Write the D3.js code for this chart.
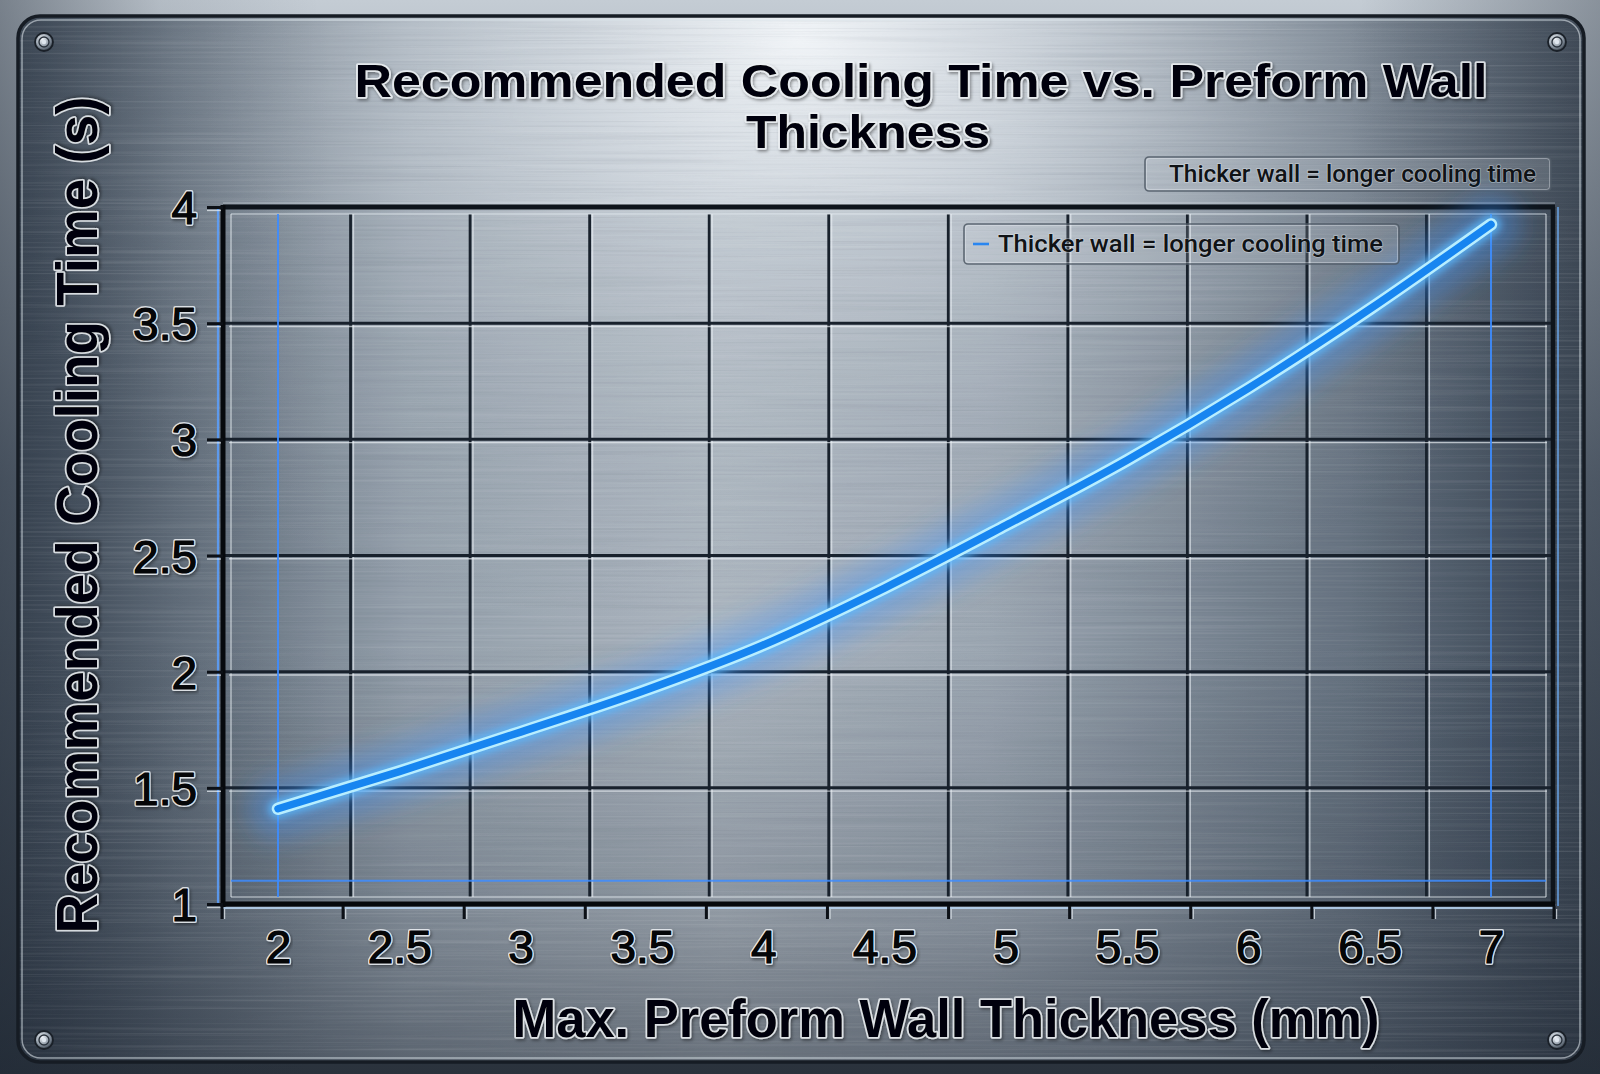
<!DOCTYPE html>
<html><head><meta charset="utf-8">
<script src="https://cdn.jsdelivr.net/npm/d3@7"></script>
<style>html,body{margin:0;padding:0;background:#3a434e;} svg{display:block}</style>
</head><body>
<svg id="chart" width="1600" height="1074"></svg>
<script>
// ---------------- data ----------------
const thickness   = [2, 2.5, 3, 3.5, 4, 4.5, 5, 5.5, 6, 6.5, 7];
const coolingTime = [1.41, 1.57, 1.74, 1.915, 2.115, 2.36, 2.63, 2.91, 3.22, 3.56, 3.925];
const xTickValues = [2, 2.5, 3, 3.5, 4, 4.5, 5, 5.5, 6, 6.5, 7];
const yTickValues = [1, 1.5, 2, 2.5, 3, 3.5, 4];
const titleLines  = ["Recommended Cooling Time vs. Preform Wall", "Thickness"];
const xAxisTitle  = "Max. Preform Wall Thickness (mm)";
const yAxisTitle  = "Recommended Cooling Time (s)";
const seriesName  = "Thicker wall = longer cooling time";
const noteText    = "Thicker wall = longer cooling time";
const gridIndex   = d3.range(12);        // decorative tile grid columns
const glowRows    = [1.1];               // blue guide line value

// ---------------- layout ----------------
const W = 1600, H = 1074;
const plot = {left: 223, right: 1553, top: 207, bottom: 904};
const svg = d3.select("#chart");
const defs = svg.append("defs");

const x = d3.scaleLinear().domain([2, 7]).range([278, 1491]);
const y = d3.scaleLinear().domain([1, 4]).range([904, 207]);
const gx = d3.scaleLinear().domain([0, 11]).range([231, 1546]);     // grid tiles
const tx = d3.scaleLinear().domain([0, 11]).range([222, 1554]);     // axis tick marks

// ---------------- defs ----------------
function lin(id, horiz, stops){
  const g = defs.append("linearGradient").attr("id",id).attr("x1",0).attr("y1",0)
    .attr("x2",horiz?1:0).attr("y2",horiz?0:1);
  stops.forEach(s => g.append("stop").attr("offset",s[0]).attr("stop-color",s[1]).attr("stop-opacity",s[2]===undefined?1:s[2]));
}
lin("pageG", false, [[0,"#c4ccd4"],[0.45,"#66717e"],[1,"#2a323c"]]);
lin("baseG", true, [[0,"#4d5967"],[0.1,"#66727f"],[0.25,"#9ba6b1"],[0.45,"#b4bdc6"],[0.62,"#a3adb8"],[0.8,"#75818e"],[0.93,"#5a6674"],[1,"#4a5562"]]);
lin("shadeG", false, [[0,"#1c2430",0],[0.6,"#1c2430",0],[0.85,"#1c2430",0.22],[1,"#1c2430",0.5]]);
lin("edgeG", true, [[0,"#1c2633",0.45],[0.1,"#1c2633",0.1],[0.2,"#1c2633",0],[0.85,"#1c2633",0],[1,"#1c2633",0.35]]);

const lightG = defs.append("radialGradient").attr("id","lightG")
  .attr("cx",0.5).attr("cy",0.06).attr("r",0.55).attr("fx",0.5).attr("fy",0.02);
lightG.append("stop").attr("offset",0).attr("stop-color","#f4f7fa").attr("stop-opacity",0.95);
lightG.append("stop").attr("offset",0.3).attr("stop-color","#dde3e9").attr("stop-opacity",0.65);
lightG.append("stop").attr("offset",0.7).attr("stop-color","#c0c8d0").attr("stop-opacity",0.2);
lightG.append("stop").attr("offset",1).attr("stop-color","#b0b9c2").attr("stop-opacity",0);

// brushed metal texture
const brush = defs.append("filter").attr("id","brush").attr("x",0).attr("y",0).attr("width",1).attr("height",1);
brush.append("feTurbulence").attr("type","fractalNoise").attr("baseFrequency","0.003 0.45").attr("numOctaves",2).attr("seed",7).attr("result","n");
brush.append("feColorMatrix").attr("type","matrix")
  .attr("values","0 0 0 0 1  0 0 0 0 1  0 0 0 0 1  1.6 0 0 0 -0.75").attr("result","w");
brush.append("feComposite").attr("in","w").attr("in2","SourceGraphic").attr("operator","in");

const brushDark = defs.append("filter").attr("id","brushDark").attr("x",0).attr("y",0).attr("width",1).attr("height",1);
brushDark.append("feTurbulence").attr("type","fractalNoise").attr("baseFrequency","0.004 0.5").attr("numOctaves",2).attr("seed",3).attr("result","n");
brushDark.append("feColorMatrix").attr("type","matrix")
  .attr("values","0 0 0 0 0.1  0 0 0 0 0.12  0 0 0 0 0.16  -1.6 0 0 0 0.85").attr("result","d");
brushDark.append("feComposite").attr("in","d").attr("in2","SourceGraphic").attr("operator","in");

const glow = defs.append("filter").attr("id","glow").attr("x","-20%").attr("y","-20%").attr("width","140%").attr("height","140%");
glow.append("feGaussianBlur").attr("stdDeviation",12);
const glowS = defs.append("filter").attr("id","glowS").attr("x","-20%").attr("y","-20%").attr("width","140%").attr("height","140%");
glowS.append("feGaussianBlur").attr("stdDeviation",3.5);

const tsh = defs.append("filter").attr("id","tsh").attr("x","-5%").attr("y","-20%").attr("width","110%").attr("height","140%");
tsh.append("feDropShadow").attr("dx",1.5).attr("dy",2).attr("stdDeviation",1.5).attr("flood-color","#000").attr("flood-opacity",0.4);

const screwG = defs.append("radialGradient").attr("id","screwG").attr("cx",0.4).attr("cy",0.35).attr("r",0.7);
screwG.append("stop").attr("offset",0).attr("stop-color","#f0f4f8");
screwG.append("stop").attr("offset",0.6).attr("stop-color","#8e99a5");
screwG.append("stop").attr("offset",1).attr("stop-color","#2c3540");

// ---------------- background ----------------
svg.append("rect").attr("width",W).attr("height",H).attr("fill","url(#pageG)");
svg.append("rect").attr("width",W).attr("height",H).attr("fill","url(#edgeG)");

const plate = {x: 18, y: 16, w: 1566, h: 1046, r: 22};
const plateG = svg.append("g");
function plateRect(fill){
  return plateG.append("rect").attr("x",plate.x).attr("y",plate.y).attr("width",plate.w).attr("height",plate.h)
    .attr("rx",plate.r).attr("fill",fill);
}
plateRect("url(#baseG)");
plateRect("url(#lightG)");
plateRect("url(#edgeG)");
plateRect("url(#shadeG)");
plateRect("#fff").attr("filter","url(#brush)").attr("opacity",0.16);
plateRect("#000").attr("filter","url(#brushDark)").attr("opacity",0.16);
plateRect("none").attr("stroke","#161c24").attr("stroke-width",3.5);
plateG.append("rect").attr("x",plate.x+4).attr("y",plate.y+4).attr("width",plate.w-8).attr("height",plate.h-8)
  .attr("rx",plate.r-3).attr("fill","none").attr("stroke","#e6ecf2").attr("stroke-opacity",0.55).attr("stroke-width",1.5);

// screws
const screws = [[44,42],[1557,42],[44,1040],[1557,1040]];
const sg = svg.append("g").selectAll("g").data(screws).join("g").attr("transform",d=>`translate(${d[0]},${d[1]})`);
sg.append("circle").attr("r",9).attr("fill","url(#screwG)").attr("stroke","#1a2028").attr("stroke-width",1.8);
sg.append("circle").attr("r",5).attr("fill","none").attr("stroke","#2a323c").attr("stroke-width",1.4);
sg.append("circle").attr("r",2.2).attr("fill","#dfe6ee");

// ---------------- plot area ----------------
const pg = svg.append("g");
pg.append("rect").attr("x",plot.left).attr("y",plot.top).attr("width",plot.right-plot.left).attr("height",plot.bottom-plot.top)
  .attr("fill","#1c2836").attr("opacity",0.05);

const innerTop = plot.top + 7, innerBottom = plot.bottom - 7;
const hGrid = yTickValues.filter(v => v > 1 && v < 4);

pg.selectAll(".vgd").data(gridIndex.slice(1, 11)).join("line")
  .attr("x1",d=>gx(d)).attr("x2",d=>gx(d)).attr("y1",innerTop).attr("y2",innerBottom)
  .attr("stroke","#18212c").attr("stroke-width",2.8);
pg.selectAll(".vgl").data(gridIndex.slice(1, 11)).join("line")
  .attr("x1",d=>gx(d)+2.9).attr("x2",d=>gx(d)+2.9).attr("y1",innerTop).attr("y2",innerBottom)
  .attr("stroke","#eef3f8").attr("stroke-opacity",0.6).attr("stroke-width",1.4);
pg.selectAll(".vgl0").data([0,11]).join("line")
  .attr("x1",d=>gx(d)).attr("x2",d=>gx(d)).attr("y1",innerTop).attr("y2",innerBottom)
  .attr("stroke","#e8eef4").attr("stroke-opacity",0.6).attr("stroke-width",1.5);

pg.selectAll(".hgd").data(hGrid).join("line")
  .attr("x1",plot.left).attr("x2",plot.right).attr("y1",d=>y(d)).attr("y2",d=>y(d))
  .attr("stroke","#18212c").attr("stroke-width",3);
pg.selectAll(".hgl").data(hGrid).join("line")
  .attr("x1",plot.left+6).attr("x2",plot.right-6).attr("y1",d=>y(d)+3.3).attr("y2",d=>y(d)+3.3)
  .attr("stroke","#eef3f8").attr("stroke-opacity",0.65).attr("stroke-width",1.4);
pg.append("line").attr("x1",gx(0)).attr("x2",gx(11)).attr("y1",innerTop).attr("y2",innerTop)
  .attr("stroke","#e8eef4").attr("stroke-opacity",0.55).attr("stroke-width",1.5);
pg.append("line").attr("x1",gx(0)).attr("x2",gx(11)).attr("y1",innerBottom).attr("y2",innerBottom)
  .attr("stroke","#e8eef4").attr("stroke-opacity",0.55).attr("stroke-width",1.5);

// blue guide lines
const blueGuides = pg.append("g");
blueGuides.selectAll(".bv").data([xTickValues[0], xTickValues[xTickValues.length-1]]).join("line")
  .attr("x1",d=>x(d)).attr("x2",d=>x(d)).attr("y1",innerTop).attr("y2",innerBottom)
  .attr("stroke","#3d8cff").attr("stroke-width",2).attr("stroke-opacity",0.9);
blueGuides.selectAll(".bh").data(glowRows).join("line")
  .attr("x1",gx(0)).attr("x2",gx(11)).attr("y1",d=>y(d)).attr("y2",d=>y(d))
  .attr("stroke","#3d8cff").attr("stroke-width",2).attr("stroke-opacity",0.85);
blueGuides.append("line").attr("x1",plot.left-5).attr("x2",plot.left-5).attr("y1",plot.top).attr("y2",plot.bottom+2)
  .attr("stroke","#5aa0ff").attr("stroke-width",2.2).attr("stroke-opacity",0.85);
blueGuides.append("line").attr("x1",plot.right+5).attr("x2",plot.right+5).attr("y1",plot.top).attr("y2",plot.bottom+2)
  .attr("stroke","#6aa8f0").attr("stroke-width",2).attr("stroke-opacity",0.7);
blueGuides.append("line").attr("x1",plot.left).attr("x2",plot.right).attr("y1",plot.bottom+4).attr("y2",plot.bottom+4)
  .attr("stroke","#b9d6f4").attr("stroke-width",2.2).attr("stroke-opacity",0.85);

// frame
pg.append("line").attr("x1",plot.left).attr("x2",plot.right+2).attr("y1",plot.top).attr("y2",plot.top)
  .attr("stroke","#0e141b").attr("stroke-width",5);
pg.append("line").attr("x1",plot.left).attr("x2",plot.right+2).attr("y1",plot.top-4).attr("y2",plot.top-4)
  .attr("stroke","#d8e0e8").attr("stroke-opacity",0.5).attr("stroke-width",1.2);
pg.append("line").attr("x1",plot.right).attr("x2",plot.right).attr("y1",plot.top).attr("y2",plot.bottom)
  .attr("stroke","#0e141b").attr("stroke-width",4.5);
pg.append("line").attr("x1",plot.left).attr("x2",plot.left).attr("y1",plot.top-2).attr("y2",plot.bottom+3)
  .attr("stroke","#06090d").attr("stroke-width",5);
pg.append("line").attr("x1",plot.left-2).attr("x2",plot.right+2).attr("y1",plot.bottom).attr("y2",plot.bottom)
  .attr("stroke","#06090d").attr("stroke-width",5);

// ---------------- axes ----------------
function emboss(sel, sw){
  sel.attr("fill","#050608").attr("stroke","#eef2f6").attr("stroke-opacity",0.85)
     .attr("stroke-width",sw).attr("stroke-linejoin","round").attr("paint-order","stroke")
     .attr("filter","url(#tsh)");
}
// thicken glyphs with a dark overlay copy
function thicken(sel, sw){
  sel.each(function(){
    const n = d3.select(this);
    const c = d3.select(this.parentNode).append("text");
    ["x","y","dy","text-anchor","font-family","font-size","font-weight","transform","textLength","lengthAdjust"].forEach(a=>{
      const v = n.attr(a); if (v !== null) c.attr(a, v);
    });
    c.text(n.text()).attr("fill","#050608").attr("stroke","#050608").attr("stroke-width",sw).attr("stroke-linejoin","round");
  });
}
const numFont = "'Liberation Sans', Arial, sans-serif";

const yAxis = d3.axisLeft(y).tickValues(yTickValues).tickSize(16).tickPadding(10).tickFormat(d=>String(d));
const yg = svg.append("g").attr("transform",`translate(${plot.left},0)`).call(yAxis);
yg.select(".domain").remove();
yg.selectAll(".tick line").attr("stroke","#0c1016").attr("stroke-width",3);
yg.selectAll(".tick").append("line").attr("x1",-16).attr("x2",-2).attr("y1",3).attr("y2",3)
  .attr("stroke","#eef3f8").attr("stroke-opacity",0.7).attr("stroke-width",1.3);
yg.selectAll(".tick text").attr("font-family",numFont).attr("text-anchor","end")
  .attr("font-size",46).attr("dy","0.36em").attr("x",-26).call(emboss, 4).call(thicken, 1.1);

const xt = svg.append("g");
xt.selectAll(".xtm").data(gridIndex).join("line")
  .attr("x1",d=>tx(d)).attr("x2",d=>tx(d)).attr("y1",plot.bottom+2).attr("y2",plot.bottom+15)
  .attr("stroke","#0c1016").attr("stroke-width",3);
xt.selectAll(".xth").data(gridIndex).join("line")
  .attr("x1",d=>tx(d)+2.6).attr("x2",d=>tx(d)+2.6).attr("y1",plot.bottom+5).attr("y2",plot.bottom+15)
  .attr("stroke","#eef3f8").attr("stroke-opacity",0.7).attr("stroke-width",1.2);

const xAxis = d3.axisBottom(x).tickValues(xTickValues).tickSize(0).tickPadding(0).tickFormat(d=>String(d));
const xg = svg.append("g").attr("transform",`translate(0,${plot.bottom})`).call(xAxis);
xg.select(".domain").remove();
xg.selectAll(".tick line").remove();
xg.selectAll(".tick text").attr("font-family",numFont).attr("text-anchor","middle")
  .attr("font-size",46).attr("y",59).attr("dy",0).call(emboss, 4).call(thicken, 1.1);

// ---------------- titles ----------------
const tf = "'Liberation Sans', Arial, Helvetica, sans-serif";
svg.append("text").attr("x",921).attr("y",97).attr("text-anchor","middle")
  .attr("font-family",tf).attr("font-weight","bold").attr("font-size",47)
  .attr("textLength",1133).attr("lengthAdjust","spacingAndGlyphs")
  .text(titleLines[0]).call(emboss, 3.5);
svg.append("text").attr("x",868).attr("y",148).attr("text-anchor","middle")
  .attr("font-family",tf).attr("font-weight","bold").attr("font-size",47)
  .attr("textLength",244).attr("lengthAdjust","spacingAndGlyphs")
  .text(titleLines[1]).call(emboss, 3.5);

svg.append("text").attr("transform","translate(97,515) rotate(-90)").attr("text-anchor","middle")
  .attr("font-family",tf).attr("font-weight","bold").attr("font-size",57)
  .attr("textLength",837).attr("lengthAdjust","spacingAndGlyphs")
  .text(yAxisTitle).call(emboss, 3.5);

svg.append("text").attr("x",946).attr("y",1037).attr("text-anchor","middle")
  .attr("font-family",tf).attr("font-weight","bold").attr("font-size",53)
  .attr("textLength",867).attr("lengthAdjust","spacingAndGlyphs")
  .text(xAxisTitle).call(emboss, 3.5);

// ---------------- annotation boxes ----------------
function box(g, x0, y0, w, h){
  g.append("rect").attr("x",x0).attr("y",y0).attr("width",w).attr("height",h).attr("rx",4)
    .attr("fill","#dfe6ee").attr("fill-opacity",0.16)
    .attr("stroke","#4d5864").attr("stroke-opacity",0.85).attr("stroke-width",1.6);
  g.append("rect").attr("x",x0+1.5).attr("y",y0+1.5).attr("width",w-3).attr("height",h-3).attr("rx",3)
    .attr("fill","none").attr("stroke","#f0f4f8").attr("stroke-opacity",0.35).attr("stroke-width",1);
}
const note = svg.append("g");
box(note, 1145, 157, 406, 34);
note.append("text").attr("x",1169).attr("y",182)
  .attr("font-family","Roboto, 'Liberation Sans', sans-serif").attr("font-weight",500).attr("font-size",24.5)
  .attr("textLength",367).attr("lengthAdjust","spacingAndGlyphs")
  .attr("fill","#101316").attr("stroke","#e4eaf0").attr("stroke-opacity",0.45).attr("stroke-width",1.6).attr("paint-order","stroke")
  .text(noteText);

// ---------------- series line ----------------
const pts = thickness.map((t,i)=>[t, coolingTime[i]]);
const lineGen = d3.line().x(d=>x(d[0])).y(d=>y(d[1])).curve(d3.curveMonotoneX);
const lg = svg.append("g");
lg.append("path").attr("d",lineGen(pts)).attr("fill","none").attr("stroke","#3a92ff")
  .attr("stroke-width",60).attr("stroke-linecap","round").attr("stroke-opacity",0.35).attr("filter","url(#glow)");
lg.append("path").attr("d",lineGen(pts)).attr("fill","none").attr("stroke","#5ab8ff")
  .attr("stroke-width",20).attr("stroke-linecap","round").attr("stroke-opacity",0.75).attr("filter","url(#glowS)");
lg.append("path").attr("d",lineGen(pts)).attr("fill","none").attr("stroke","#b8eeff")
  .attr("stroke-width",12.5).attr("stroke-linecap","round");
lg.append("path").attr("d",lineGen(pts)).attr("fill","none").attr("stroke","#1785f0")
  .attr("stroke-width",7.5).attr("stroke-linecap","round");

// ---------------- legend ----------------
const leg = svg.append("g");
box(leg, 964, 224, 435, 40);
leg.append("line").attr("x1",973).attr("x2",989).attr("y1",244).attr("y2",244)
  .attr("stroke","#2a86f0").attr("stroke-width",2.6);
leg.append("text").attr("x",998).attr("y",252)
  .attr("font-family","Roboto, 'Liberation Sans', sans-serif").attr("font-weight",500).attr("font-size",24.5)
  .attr("textLength",385).attr("lengthAdjust","spacingAndGlyphs")
  .attr("fill","#101316").attr("stroke","#e4eaf0").attr("stroke-opacity",0.45).attr("stroke-width",1.6).attr("paint-order","stroke")
  .text(seriesName);
</script>
</body></html>
